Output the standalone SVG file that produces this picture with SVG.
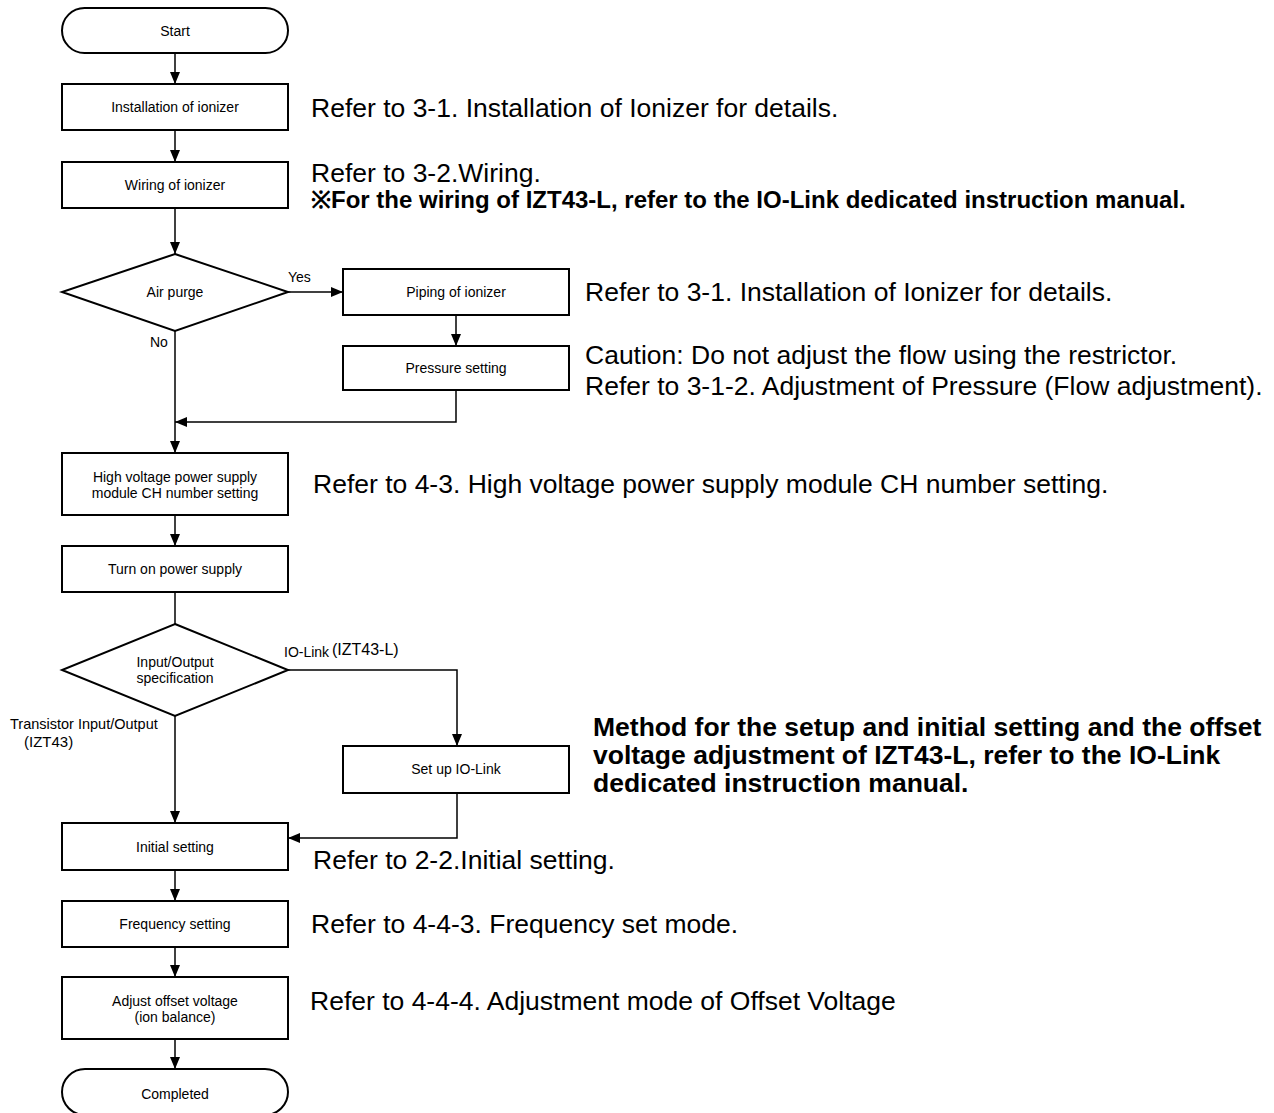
<svg xmlns="http://www.w3.org/2000/svg" width="1274" height="1113" viewBox="0 0 1274 1113">
  <style>
    .box { fill: #ffffff; stroke: #000000; stroke-width: 2; }
    .lbl { font-family: "Liberation Sans", Arial, sans-serif; font-size: 14px; fill: #000000; text-anchor: middle; dominant-baseline: central; }
    .edge { font-family: "Liberation Sans", Arial, sans-serif; font-size: 14px; fill: #000000; }
    .note { font-family: "Liberation Sans", Arial, sans-serif; font-size: 26.5px; fill: #000000; }
    .bold { font-family: "Liberation Sans", Arial, sans-serif; font-weight: bold; fill: #000000; }
    .wire { fill: none; stroke: #000000; stroke-width: 1.5; }
  </style>
  <defs>
    <marker id="arrow" markerUnits="userSpaceOnUse" markerWidth="12" markerHeight="10" refX="12" refY="5" orient="auto">
      <path d="M0,0 L12,5 L0,10 Z" fill="#000000"/>
    </marker>
  </defs>
  <rect width="1274" height="1113" fill="#ffffff"/>

  <!-- connectors -->
  <g id="connectors">
    <path class="wire" d="M175,53 V84" marker-end="url(#arrow)"/>
    <path class="wire" d="M175,130 V162" marker-end="url(#arrow)"/>
    <path class="wire" d="M175,208 V254" marker-end="url(#arrow)"/>
    <path class="wire" d="M288,292 H343" marker-end="url(#arrow)"/>
    <path class="wire" d="M456,315 V346" marker-end="url(#arrow)"/>
    <path class="wire" d="M456,390 V422 H175" marker-end="url(#arrow)"/>
    <path class="wire" d="M175,331 V453" marker-end="url(#arrow)"/>
    <path class="wire" d="M175,515 V546" marker-end="url(#arrow)"/>
    <path class="wire" d="M175,592 V624"/>
    <path class="wire" d="M288,670 H457 V746" marker-end="url(#arrow)"/>
    <path class="wire" d="M175,716 V823" marker-end="url(#arrow)"/>
    <path class="wire" d="M457,793 V838 H288" marker-end="url(#arrow)"/>
    <path class="wire" d="M175,870 V901" marker-end="url(#arrow)"/>
    <path class="wire" d="M175,947 V977" marker-end="url(#arrow)"/>
    <path class="wire" d="M175,1039 V1069" marker-end="url(#arrow)"/>
    <text class="edge" x="288" y="282">Yes</text>
    <text class="edge" x="150" y="347">No</text>
    <text class="edge" x="284" y="657">IO-Link</text>
    <text class="edge" x="332" y="655" style="font-size:16px">(IZT43-L)</text>
    <text class="edge" x="10" y="729" style="font-size:14.5px">Transistor Input/Output</text>
    <text class="edge" x="24" y="747" style="font-size:15px">(IZT43)</text>
  </g>

  <!-- nodes -->
  <g id="start">
    <rect class="box" x="62" y="8" width="226" height="45" rx="22.5"/>
    <text class="lbl" x="175" y="31">Start</text>
  </g>
  <g id="install">
    <rect class="box" x="62" y="84" width="226" height="46"/>
    <text class="lbl" x="175" y="107">Installation of ionizer</text>
  </g>
  <g id="wiring">
    <rect class="box" x="62" y="162" width="226" height="46"/>
    <text class="lbl" x="175" y="185">Wiring of ionizer</text>
  </g>
  <g id="air-purge">
    <path class="box" d="M175,254 L288,292 L175,331 L62,292 Z"/>
    <text class="lbl" x="175" y="292">Air purge</text>
  </g>
  <g id="piping">
    <rect class="box" x="343" y="269" width="226" height="46"/>
    <text class="lbl" x="456" y="292">Piping of ionizer</text>
  </g>
  <g id="pressure">
    <rect class="box" x="343" y="346" width="226" height="44"/>
    <text class="lbl" x="456" y="368">Pressure setting</text>
  </g>
  <g id="hv-module">
    <rect class="box" x="62" y="453" width="226" height="62"/>
    <text class="lbl" x="175" y="477">High voltage power supply</text>
    <text class="lbl" x="175" y="493">module CH number setting</text>
  </g>
  <g id="power-on">
    <rect class="box" x="62" y="546" width="226" height="46"/>
    <text class="lbl" x="175" y="569">Turn on power supply</text>
  </g>
  <g id="io-spec">
    <path class="box" d="M175,624 L288,670 L175,716 L62,670 Z"/>
    <text class="lbl" x="175" y="662">Input/Output</text>
    <text class="lbl" x="175" y="678">specification</text>
  </g>
  <g id="setup-iolink">
    <rect class="box" x="343" y="746" width="226" height="47"/>
    <text class="lbl" x="456" y="769">Set up IO-Link</text>
  </g>
  <g id="initial">
    <rect class="box" x="62" y="823" width="226" height="47"/>
    <text class="lbl" x="175" y="847">Initial setting</text>
  </g>
  <g id="frequency">
    <rect class="box" x="62" y="901" width="226" height="46"/>
    <text class="lbl" x="175" y="924">Frequency setting</text>
  </g>
  <g id="offset">
    <rect class="box" x="62" y="977" width="226" height="62"/>
    <text class="lbl" x="175" y="1001">Adjust offset voltage</text>
    <text class="lbl" x="175" y="1017">(ion balance)</text>
  </g>
  <g id="completed">
    <rect class="box" x="62" y="1069" width="226" height="46" rx="23"/>
    <text class="lbl" x="175" y="1094">Completed</text>
  </g>

  <!-- reference notes -->
  <g id="notes">
    <text class="note" x="311" y="117">Refer to 3-1. Installation of Ionizer for details.</text>
    <text class="note" x="311" y="182">Refer to 3-2.Wiring.</text>
    <text class="bold" x="311" y="208" style="font-size:24px">※For the wiring of IZT43-L, refer to the IO-Link dedicated instruction manual.</text>
    <text class="note" x="585" y="301">Refer to 3-1. Installation of Ionizer for details.</text>
    <text class="note" x="585" y="364">Caution: Do not adjust the flow using the restrictor.</text>
    <text class="note" x="585" y="395">Refer to 3-1-2. Adjustment of Pressure (Flow adjustment).</text>
    <text class="note" x="313" y="493">Refer to 4-3. High voltage power supply module CH number setting.</text>
    <text class="bold" x="593" y="736" style="font-size:26.5px">Method for the setup and initial setting and the offset</text>
    <text class="bold" x="593" y="764" style="font-size:26.5px">voltage adjustment of IZT43-L, refer to the IO-Link</text>
    <text class="bold" x="593" y="792" style="font-size:26.5px">dedicated instruction manual.</text>
    <text class="note" x="313" y="869">Refer to 2-2.Initial setting.</text>
    <text class="note" x="311" y="933">Refer to 4-4-3. Frequency set mode.</text>
    <text class="note" x="310" y="1010">Refer to 4-4-4. Adjustment mode of Offset Voltage</text>
  </g>
</svg>
